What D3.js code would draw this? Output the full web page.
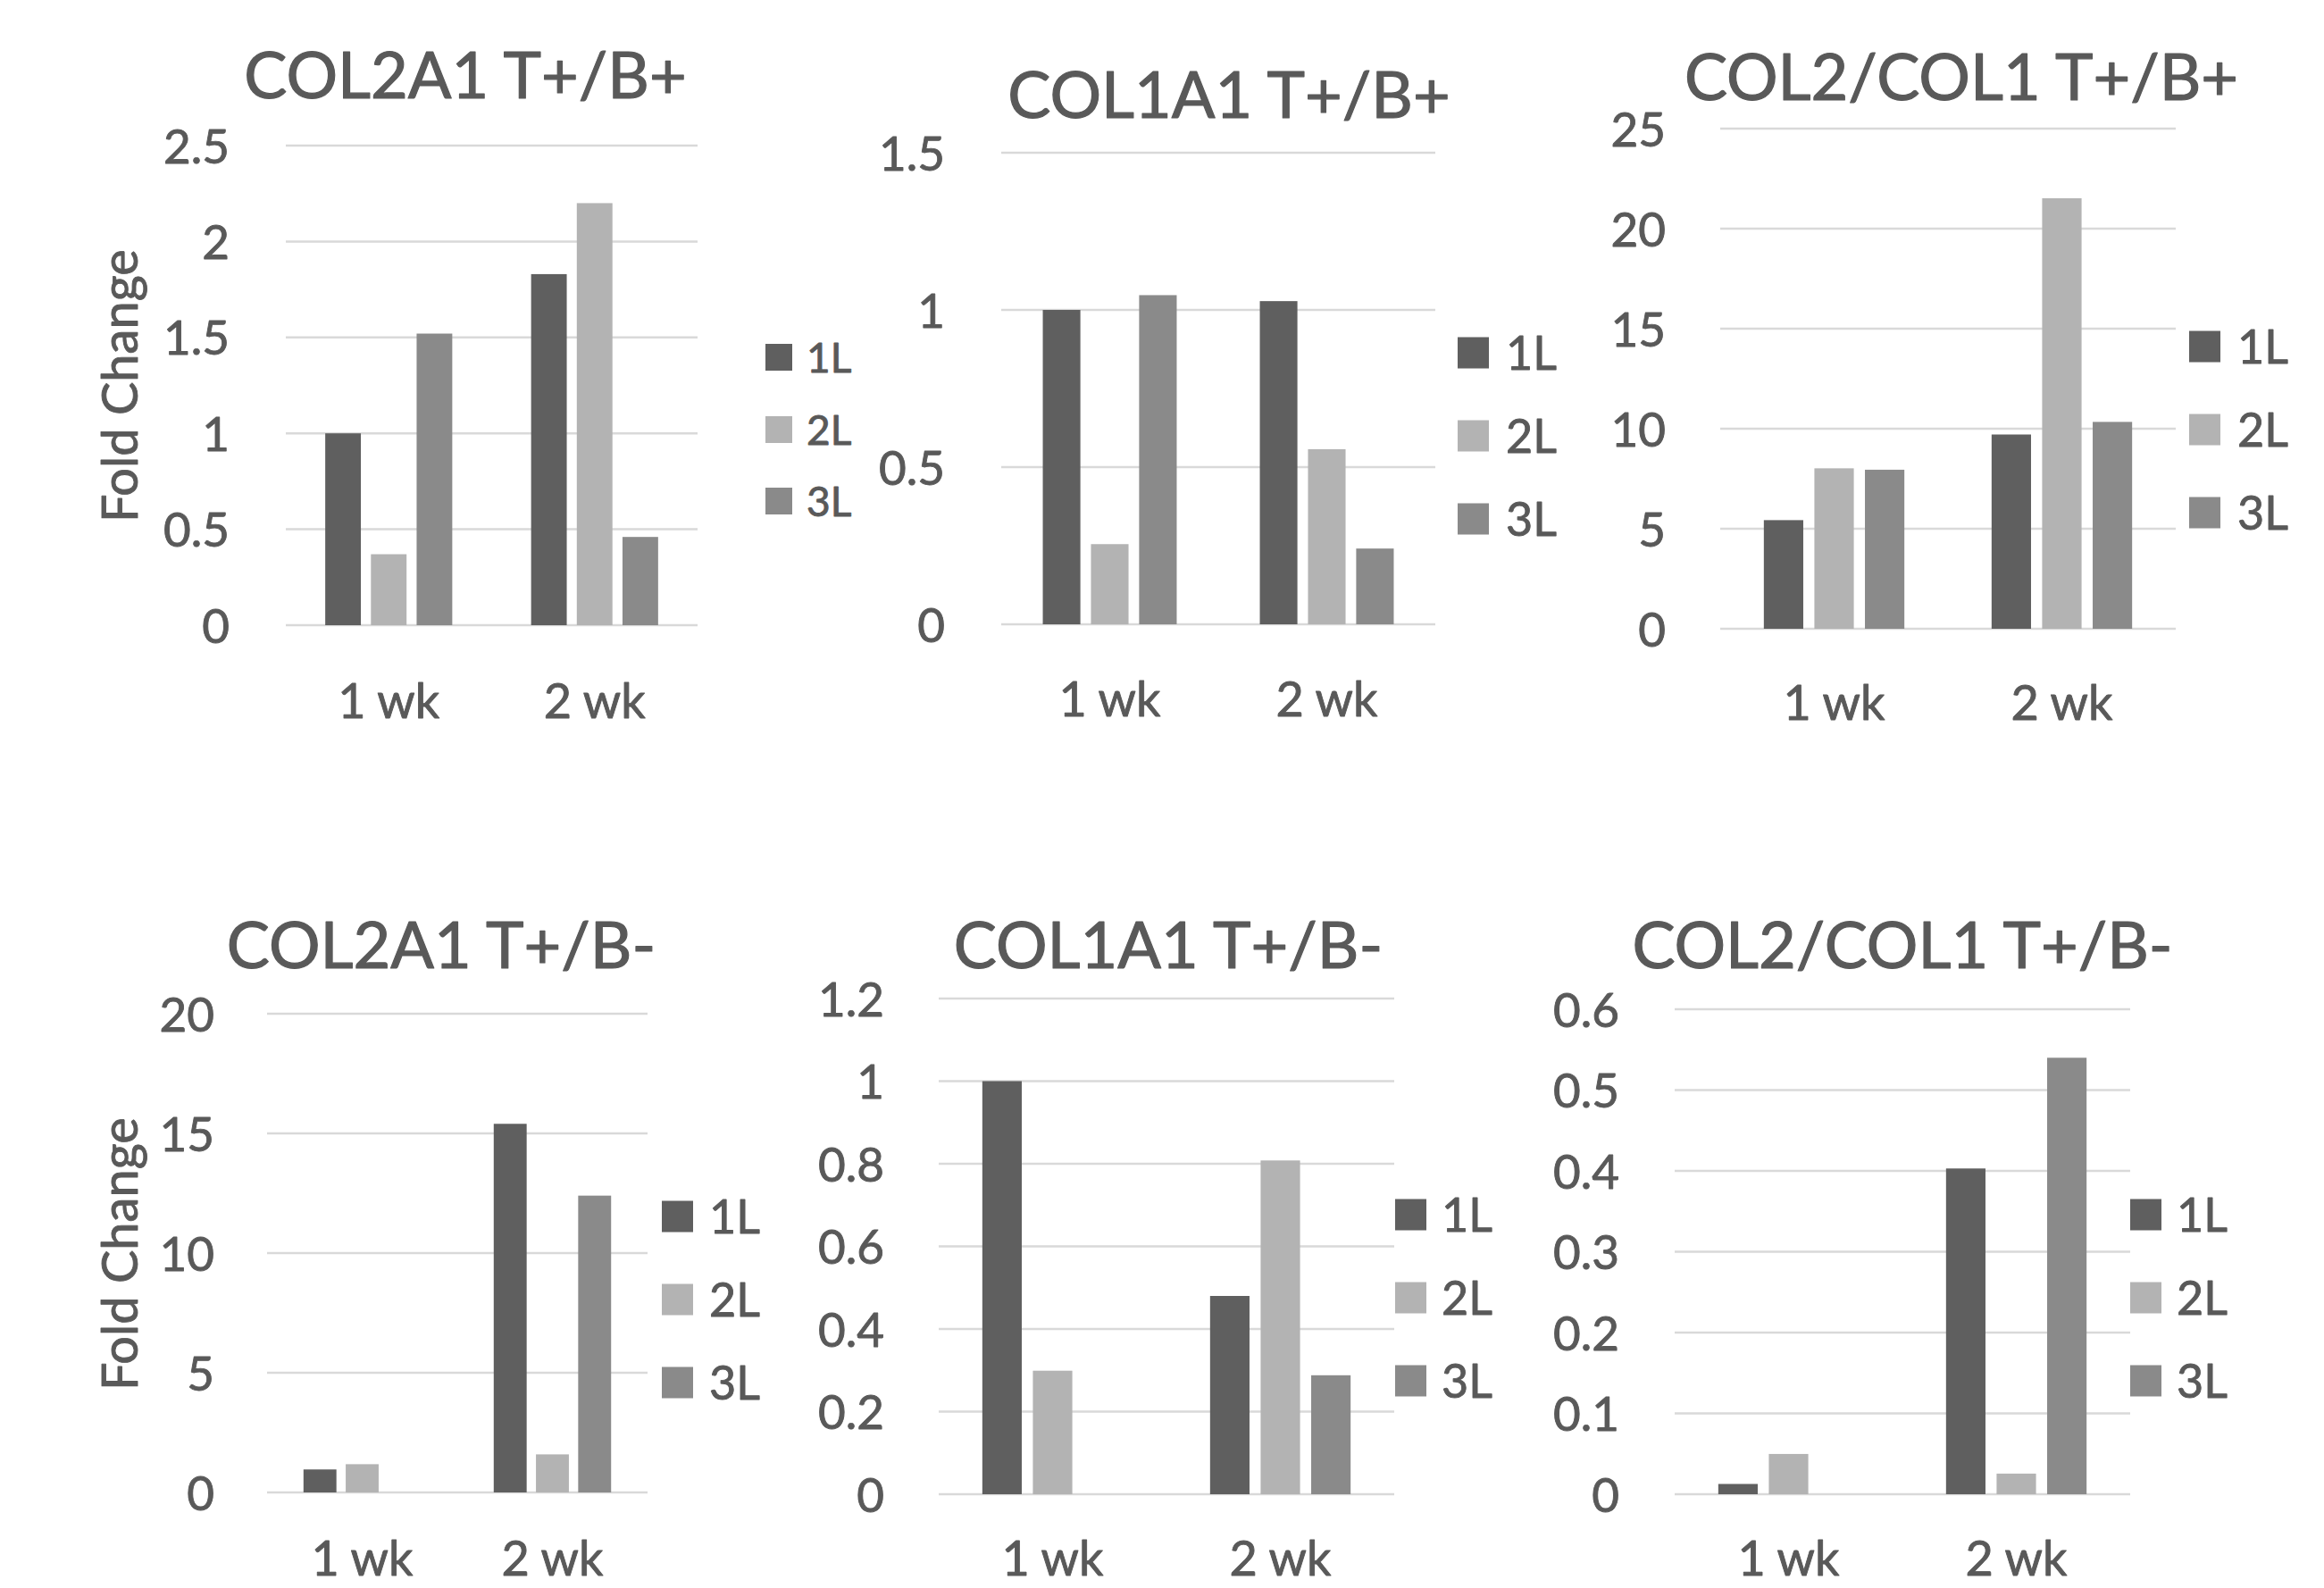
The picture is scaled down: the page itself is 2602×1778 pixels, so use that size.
<!DOCTYPE html>
<html>
<head>
<meta charset="utf-8">
<script src="https://cdn.jsdelivr.net/npm/d3@7"></script>
<style>
  html, body { margin: 0; padding: 0; background: #ffffff; overflow: hidden; }
  svg { display: block; font-family: Lato, "Open Sans", sans-serif; }
  svg text { paint-order: stroke; stroke: #595959; stroke-linejoin: round; }
</style>
</head>
<body>
<svg id="chart" width="2602" height="1778"></svg>
<script>
// ---------------- data ----------------
const categories = ["1 wk", "2 wk"];
const series = ["1L", "2L", "3L"];
const titles = ["COL2A1 T+/B+", "COL1A1 T+/B+", "COL2/COL1 T+/B+",
                "COL2A1 T+/B-", "COL1A1 T+/B-", "COL2/COL1 T+/B-"];
const yAxisLabel = "Fold Change";

// values per category: [1L, 2L, 3L]
const col2a1_TpBp = [[1.00, 0.37, 1.52], [1.83, 2.20, 0.46]];
const col1a1_TpBp = [[1.00, 0.255, 1.047], [1.028, 0.557, 0.241]];
const ratio_TpBp  = [[5.43, 8.02, 7.95], [9.71, 21.52, 10.34]];
const col2a1_TpBm = [[0.96, 1.18, 0], [15.40, 1.59, 12.40]];
const col1a1_TpBm = [[1.00, 0.299, 0], [0.480, 0.808, 0.288]];
const ratio_TpBm  = [[0.0127, 0.0498, 0], [0.403, 0.0255, 0.540]];

// tick labels
const ticks1 = [0, 0.5, 1, 1.5, 2, 2.5];
const ticks2 = [0, 0.5, 1, 1.5];
const ticks3 = [0, 5, 10, 15, 20, 25];
const ticks4 = [0, 5, 10, 15, 20];
const ticks5 = [0, 0.2, 0.4, 0.6, 0.8, 1, 1.2];
const ticks6 = [0, 0.1, 0.2, 0.3, 0.4, 0.5, 0.6];

// ---------------- styles / layout ----------------
const colors = ["#5f5f5f", "#b3b3b3", "#8a8a8a"];
const textColor = "#595959";
const gridColor = "#d9d9d9";

const layout = [
  {x0: 320, x1: 781, yTop: 163, yBot: 700, tickRight: 257, titleX: 521, titleY: 110,
   legX: 857, sq: 30, legFont: 46, legYs: [400, 481, 561], legTextX: 903, catY: 804,
   ylabel: true, ylabX: 134, ylabY: 432},
  {x0: 1121, x1: 1607, yTop: 171, yBot: 699, tickRight: 1058, titleX: 1376, titleY: 132,
   legX: 1632, sq: 35, legFont: 52, legYs: [395, 488, 581], legTextX: 1686, catY: 802},
  {x0: 1926, x1: 2436, yTop: 144, yBot: 704, tickRight: 1865, titleX: 2196, titleY: 112,
   legX: 2451, sq: 35, legFont: 52, legYs: [388, 481, 574], legTextX: 2505, catY: 806},
  {x0: 299, x1: 725, yTop: 1135, yBot: 1671, tickRight: 240, titleX: 494, titleY: 1084,
   legX: 741, sq: 35, legFont: 52, legYs: [1362, 1455, 1548], legTextX: 794, catY: 1764,
   ylabel: true, ylabX: 134, ylabY: 1404},
  {x0: 1051, x1: 1561, yTop: 1118, yBot: 1673, tickRight: 990, titleX: 1308, titleY: 1084,
   legX: 1562, sq: 35, legFont: 52, legYs: [1360, 1453, 1546], legTextX: 1614, catY: 1764},
  {x0: 1875, x1: 2385, yTop: 1130, yBot: 1673, tickRight: 1813, titleX: 2130, titleY: 1084,
   legX: 2385, sq: 35, legFont: 52, legYs: [1360, 1453, 1546], legTextX: 2437, catY: 1764}
];

const panelValues = [col2a1_TpBp, col1a1_TpBp, ratio_TpBp, col2a1_TpBm, col1a1_TpBm, ratio_TpBm];
const panelTicks = [ticks1, ticks2, ticks3, ticks4, ticks5, ticks6];

const svg = d3.select("#chart");
svg.append("rect").attr("width", 2602).attr("height", 1778).attr("fill", "#ffffff");

layout.forEach((L, i) => {
  const vals = panelValues[i];
  const ticks = panelTicks[i];
  const g = svg.append("g");

  const x = d3.scaleBand().domain(categories).range([L.x0, L.x1]).paddingInner(0).paddingOuter(0);
  const bw = x.bandwidth();
  const xs = d3.scaleBand().domain(series)
    .range([0.1915 * bw, 0.8085 * bw]).paddingInner(0.22).paddingOuter(0);
  const y = d3.scaleLinear().domain([0, d3.max(ticks)]).range([L.yBot, L.yTop]);

  // gridlines
  g.append("g").selectAll("line").data(ticks).join("line")
    .attr("x1", L.x0).attr("x2", L.x1)
    .attr("y1", d => y(d)).attr("y2", d => y(d))
    .attr("stroke", gridColor).attr("stroke-width", 2.5);

  // y tick labels via axis
  const yAxis = d3.axisLeft(y).tickValues(ticks).tickSize(0).tickPadding(0)
    .tickFormat(d3.format("~g"));
  const ag = g.append("g").attr("transform", `translate(${L.tickRight},0)`).call(yAxis);
  ag.select(".domain").remove();
  ag.selectAll("text").attr("fill", textColor).attr("font-size", 53)
    .attr("font-family", "Lato, 'Open Sans', sans-serif").attr("dy", "0.36em")
    .attr("stroke-width", 0.9);

  // bars
  categories.forEach((c, ci) => {
    g.append("g").selectAll("rect").data(series).join("rect")
      .attr("x", s => x(c) + xs(s))
      .attr("width", xs.bandwidth())
      .attr("y", (s, si) => y(vals[ci][si]))
      .attr("height", (s, si) => y(0) - y(vals[ci][si]))
      .attr("fill", (s, si) => colors[si]);
  });

  // category labels
  g.append("g").selectAll("text").data(categories).join("text")
    .attr("x", d => x(d) + bw / 2).attr("y", L.catY)
    .attr("text-anchor", "middle").attr("fill", textColor).attr("font-size", 54)
    .attr("stroke-width", 0.9)
    .text(d => d);

  // title
  g.append("text").attr("x", L.titleX).attr("y", L.titleY)
    .attr("text-anchor", "middle").attr("fill", textColor).attr("font-size", 72)
    .attr("stroke-width", 1.2)
    .text(titles[i]);

  // legend
  const lg = g.append("g");
  series.forEach((s, si) => {
    lg.append("rect").attr("x", L.legX).attr("y", L.legYs[si] - L.sq / 2)
      .attr("width", L.sq).attr("height", L.sq).attr("fill", colors[si]);
    lg.append("text").attr("x", L.legTextX).attr("y", L.legYs[si])
      .attr("dy", "0.36em").attr("fill", textColor).attr("font-size", L.legFont)
      .attr("stroke-width", 0.9)
      .text(s);
  });

  // y axis title
  if (L.ylabel) {
    g.append("text")
      .attr("transform", `translate(${L.ylabX},${L.ylabY}) rotate(-90)`)
      .attr("text-anchor", "middle").attr("dy", "0.36em")
      .attr("fill", textColor).attr("font-size", 56)
      .attr("stroke-width", 0.9)
      .text(yAxisLabel);
  }
});
</script>
</body>
</html>
